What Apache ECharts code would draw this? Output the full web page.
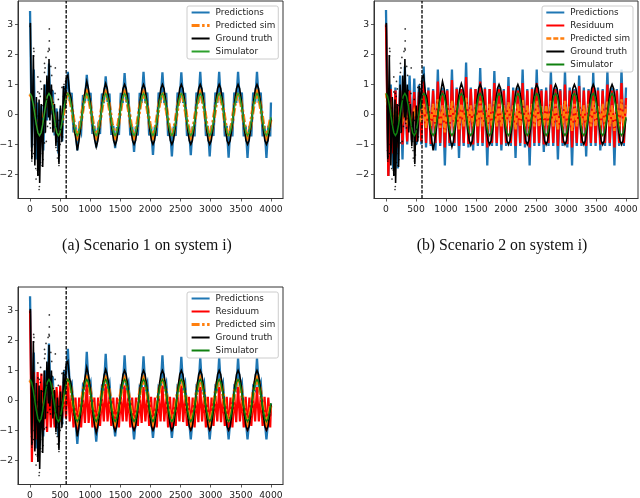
<!DOCTYPE html>
<html><head><meta charset="utf-8">
<style>html,body{margin:0;padding:0;background:#fff}#c{width:640px;height:498px;filter:blur(.4px)}</style>
<script src="https://cdn.jsdelivr.net/npm/echarts@6/dist/echarts.min.js"></script>
</head><body><div id="c"></div>
<script>
const xTicks=[0,500,1000,1500,2000,2500,3000,3500,4000];
const yTicks=[-2,-1,0,1,2,3];
const captions=["(a) Scenario 1 on system i)","(b) Scenario 2 on system i)"];
const splitStep=600;

const simX=[0,26,52,79,105,131,157,183,209,236,262,288,314,340,366,393,419,445,471,497,523,550,576,602,628,654,680,707,733,759,785,811,837,864,890,916,942,968,994,1021,1047,1073,1099,1125,1151,1178,1204,1230,1256,1282,1308,1335,1361,1387,1413,1439,1465,1492,1518,1544,1570,1596,1622,1649,1675,1701,1727,1753,1779,1806,1832,1858,1884,1910,1936,1963,1989,2015,2041,2067,2093,2120,2146,2172,2198,2224,2250,2277,2303,2329,2355,2381,2407,2434,2460,2486,2512,2538,2564,2591,2617,2643,2669,2695,2721,2748,2774,2800,2826,2852,2878,2905,2931,2957,2983,3009,3035,3062,3088,3114,3140,3166,3192,3219,3245,3271,3297,3323,3349,3376,3402,3428,3454,3480,3506,3533,3559,3585,3611,3637,3663,3690,3716,3742,3768,3794,3820,3847,3873,3899,3925,3951,3977,4000];
const simulator=[.7,.61,.35,0,-.35,-.61,-.7,-.61,-.35,0,.35,.61,.7,.61,.35,0,-.35,-.61,-.7,-.61,-.35,0,.35,.61,.7,.61,.35,0,-.35,-.61,-.7,-.61,-.35,0,.35,.61,.7,.61,.35,0,-.35,-.61,-.7,-.61,-.35,0,.35,.61,.7,.61,.35,0,-.35,-.61,-.7,-.61,-.35,0,.35,.61,.7,.61,.35,0,-.35,-.61,-.7,-.61,-.35,0,.35,.61,.7,.61,.35,0,-.35,-.61,-.7,-.61,-.35,0,.35,.61,.7,.61,.35,0,-.35,-.61,-.7,-.61,-.35,0,.35,.61,.7,.61,.35,0,-.35,-.61,-.7,-.61,-.35,0,.35,.61,.7,.61,.35,0,-.35,-.61,-.7,-.61,-.35,0,.35,.61,.7,.61,.35,0,-.35,-.61,-.7,-.61,-.35,0,.35,.61,.7,.61,.35,0,-.35,-.61,-.7,-.61,-.35,0,.35,.61,.7,.61,.35,0,-.35,-.61,-.7,-.61,-.35,-.09];
const predSimAC=[.68,.6,.36,.02,-.36,-.63,-.72,-.62,-.34,.02,.36,.62,.72,.62,.35,.02,-.35,-.62,-.74,-.62,-.34,.02,.36,.63,.74,.63,.37,.03,-.34,-.62,-.74,-.62,-.34,.03,.37,.63,.74,.63,.37,.02,-.35,-.63,-.75,-.63,-.35,.02,.36,.63,.73,.62,.36,.02,-.35,-.63,-.75,-.63,-.35,.02,.36,.62,.73,.62,.36,.02,-.35,-.63,-.75,-.63,-.35,.02,.36,.62,.73,.62,.36,.02,-.35,-.63,-.75,-.63,-.35,.02,.36,.62,.73,.62,.36,.02,-.35,-.63,-.75,-.63,-.35,.02,.36,.62,.73,.62,.36,.02,-.35,-.63,-.75,-.63,-.35,.02,.36,.62,.73,.62,.36,.02,-.35,-.63,-.75,-.63,-.35,.02,.36,.62,.73,.62,.36,.02,-.35,-.63,-.75,-.63,-.35,.02,.36,.62,.73,.62,.36,.02,-.35,-.63,-.75,-.63,-.35,.02,.36,.62,.73,.62,.36,.02,-.35,-.63,-.75,-.63,-.35,-.1];

const truthX=[0,6,30,55,80,105,130,150,160,185,210,235,255,280,305,315,330,355,380,405,430,455,480,505,530,555,580,600,628,654,680,707,733,759,785,811,837,864,890,916,942,968,994,1021,1047,1073,1099,1125,1151,1178,1204,1230,1256,1282,1308,1335,1361,1387,1413,1439,1465,1492,1518,1544,1570,1596,1622,1649,1675,1701,1727,1753,1779,1806,1832,1858,1884,1910,1936,1963,1989,2015,2041,2067,2093,2120,2146,2172,2198,2224,2250,2277,2303,2329,2355,2381,2407,2434,2460,2486,2512,2538,2564,2591,2617,2643,2669,2695,2721,2748,2774,2800,2826,2852,2878,2905,2931,2957,2983,3009,3035,3062,3088,3114,3140,3166,3192,3219,3245,3271,3297,3323,3349,3376,3402,3428,3454,3480,3506,3533,3559,3585,3611,3637,3663,3690,3716,3742,3768,3794,3820,3847,3873,3899,3925,3951,3977,4000];
const groundTruth=[2.9,3.05,-1.5,1.98,-1.7,.58,-2.05,.5,-2.28,.35,-1.75,1.0,-.6,1.3,-.1,1.85,-.2,1.0,-.6,.35,-1.05,.1,-1.65,.3,-.9,.95,.2,1.2,
1.3,.75,.55,.1,-.45,-.8,-1.2,-.9,-.5,0,.45,.8,
1.1,.88,.52,.02,-.5,-.85,-1.08,-.88,-.5,0,.5,.85,
1.03,.87,.5,0,-.5,-.87,-1.02,-.87,-.5,0,.5,.87,
1,.87,.5,0,-.5,-.87,-1,-.87,-.5,0,.5,.87,
1,.87,.5,0,-.5,-.87,-1,-.87,-.5,0,.5,.87,
1,.87,.5,0,-.5,-.87,-1,-.87,-.5,0,.5,.87,
1,.87,.5,0,-.5,-.87,-1,-.87,-.5,0,.5,.87,
1,.87,.5,0,-.5,-.87,-1,-.87,-.5,0,.5,.87,
1,.87,.5,0,-.5,-.87,-1,-.87,-.5,0,.5,.87,
1,.87,.5,0,-.5,-.87,-1,-.87,-.5,0,.5,.87,
1,.87,.5,0,-.5,-.87,-1,-.87,-.5,-.13];

const noiseX=[320,320,315,320,300,60,65,60,265,240,250,240,345,420,360,130,175,190,130,170,155,215,110,385,330,340,370,415,250,270,290,280,530,570,565,590,555,470,440,480,510,430,450,455,475,480,490,500,540,520,445,60,30,35,25,100,95,150,155,145,200,215,205,240,175,120,70,85,190];
const noiseY=[2.85,2.45,2.2,2.15,2.1,2.2,2.1,1.95,1.9,1.7,1.55,1.4,1.6,1.55,1.3,1.25,1.1,.85,.75,.6,.7,.3,-.05,.4,-.3,-.45,.8,.7,-.6,-.9,-.4,.5,.9,.85,1.0,1.1,.6,.5,-.4,-.2,-.5,-1.1,-1.2,-1.45,-1.55,-1.7,-1.35,-1.0,-.75,-.9,-.9,-1.3,-1.55,-1.4,-1.2,-2.15,-1.8,-2.5,-2.4,-2.0,-1.7,-1.5,-1.3,-.95,-1.6,-1.85,-1.0,-.4,-.1];

const teethX=[0,31,63,94,126,157,188,220,251,283,314,345,377,408,440,471,502,534,565,597,628,659,691,722,754,785,816,848,879,911,942,973,1005,1036,1068,1099,1130,1162,1193,1225,1256,1287,1319,1350,1382,1413,1444,1476,1507,1539,1570,1601,1633,1664,1696,1727,1758,1790,1821,1853,1884,1915,1947,1978,2010,2041,2072,2104,2135,2167,2198,2229,2261,2292,2324,2355,2386,2418,2449,2481,2512,2543,2575,2606,2638,2669,2700,2732,2763,2795,2826,2857,2889,2920,2952,2983,3014,3046,3077,3109,3140,3171,3203,3234,3266,3297,3328,3360,3391,3423,3454,3485,3517,3548,3580,3611,3642,3674,3705,3737,3768,3799,3831,3862,3894,3925,3956,3988,4000];
const predictionsA=[3.45,-1.1,1.5,-1.5,.4,-1.7,.3,-1.2,1.0,-.2,1.7,0,.8,-.7,.2,-1.3,.2,-.9,.95,.6,
1.42,.45,.72,-.6,-.35,-1.2,-.4,-.6,.65,.4,
1.32,.45,.72,-.65,-.38,-1.1,-.42,-.65,.7,.38,
1.27,.42,.7,-.68,-.38,-1.12,-.42,-.68,.72,.38,
1.38,.4,.72,-.7,-.4,-1.25,-.4,-.7,.72,.38,
1.42,.38,.73,-.7,-.4,-1.35,-.4,-.72,.73,.38,
1.4,.38,.72,-.72,-.4,-1.4,-.4,-.72,.73,.38,
1.4,.38,.72,-.72,-.38,-1.36,-.4,-.73,.73,.38,
1.42,.38,.73,-.72,-.38,-1.4,-.38,-.72,.73,.38,
1.42,.38,.73,-.73,-.38,-1.44,-.38,-.73,.73,.38,
1.42,.38,.73,-.73,-.38,-1.45,-.38,-.73,.73,.38,
1.42,.38,.73,-.73,-.38,-1.45,-.38,-.73,.4];
const predictionsC=[3.47,-1.1,1.6,-1.6,.5,-1.5,.4,-1.2,1.0,0,1.9,-.1,.8,-.8,.3,-1.2,.3,-.8,1.0,.7,
1.72,.5,.6,-.3,-.6,-1.45,-.6,-.5,.5,.4,
1.62,.4,.6,-.3,-.6,-1.37,-.6,-.5,.45,.35,
1.55,.4,.6,-.3,-.6,-1.2,-.6,-.5,.45,.35,
1.5,.4,.6,-.3,-.6,-1.3,-.6,-.5,.45,.35,
1.47,.4,.6,-.3,-.6,-1.25,-.6,-.5,.45,.35,
1.5,.4,.6,-.3,-.6,-1.25,-.6,-.5,.45,.35,
1.45,.4,.6,-.3,-.6,-1.3,-.6,-.5,.45,.35,
1.43,.4,.6,-.3,-.6,-1.3,-.6,-.5,.45,.35,
1.42,.4,.6,-.3,-.6,-1.3,-.6,-.5,.45,.35,
1.4,.4,.6,-.3,-.6,-1.3,-.6,-.5,.45,.35,
1.4,.4,.6,-.3,-.6,-1.3,-.6,-.5,-.1];
const residuumC=[3.0,-2.05,.95,-1.3,.95,-1.0,.9,-1.0,.5,-1.05,.6,-.9,.4,-.9,.45,-.75,.5,-.6,.35,-.6,
.7,-.7,.2,-.9,.1,-1.05,.1,-.9,.15,-.75,
.6,-.75,.15,-.9,.1,-1.05,.1,-.85,.15,-.7,
.55,-.7,.15,-.85,.1,-.95,.1,-.9,.15,-.7,
.5,-.7,.15,-.9,.1,-1.0,.1,-.85,.15,-.75,
.45,-.7,.15,-.85,.12,-1.0,.1,-.9,.15,-.7,
.5,-.7,.15,-.9,.12,-1.0,.1,-.85,.15,-.7,
.5,-.72,.15,-.85,.12,-1.0,.1,-.9,.15,-.72,
.45,-.7,.15,-.9,.12,-1.0,.1,-.85,.15,-.7,
.45,-.72,.15,-.85,.12,-1.0,.1,-.9,.15,-.72,
.45,-.7,.15,-.9,.12,-1.0,.1,-.85,.15,-.7,
.45,-.7,.15,-.85,.12,-1.0,.1,-.9,-.15];

const scenario2X=[0,39,79,118,157,196,236,275,314,353,393,432,471,510,550,589,628,667,707,746,785,824,864,903,942,981,1021,1060,1099,1138,1178,1217,1256,1295,1335,1374,1413,1452,1492,1531,1570,1609,1649,1688,1727,1766,1806,1845,1884,1923,1963,2002,2041,2080,2120,2159,2198,2237,2277,2316,2355,2394,2434,2473,2512,2551,2591,2630,2669,2708,2748,2787,2826,2865,2905,2944,2983,3022,3062,3101,3140,3179,3219,3258,3297,3336,3376,3415,3454,3493,3533,3572,3611,3650,3690,3729,3768,3807,3847,3886,3925,3964,4000];
const predictionsB=[3.48,-2.05,1.0,-1.8,.9,-1.8,1.3,-1.5,1.6,-1.0,1.3,-.9,1.2,-1.0,1.0,-1.0,
1.6,-1.1,.9,-1.05,.85,-1.2,1.5,-1.05,.9,-1.7,.85,-1.05,1.5,-1.05,.9,-1.45,.85,-1.05,1.73,-1.1,.9,-1.2,.85,-1.05,1.55,-1.05,.9,-1.7,.85,-1.05,1.45,-1.05,.9,-1.2,.85,-1.05,1.25,-1.05,.9,-1.45,.9,-1.05,1.5,-1.1,.85,-1.7,.9,-1.05,1.5,-1.05,.85,-1.25,.9,-1.05,1.45,-1.05,.9,-1.5,.85,-1.05,1.45,-1.1,.9,-1.7,.85,-1.05,1.3,-1.05,.9,-1.4,.85,-1.05,1.4,-1.05,.9,-1.2,.85,-1.05,1.45,-1.05,.9,-1.7,.85,-1.05,1.5,-1.05,.9];
const residuumB=[3.0,-2.05,.85,-1.3,.8,-1.1,.8,-1.0,.95,-.9,.8,-.85,.75,-.9,.75,-.9,
1.1,-.95,.8,-.98,.8,-.95,1.1,-.95,.8,-1.1,.8,-.95,1.15,-.95,.85,-1.05,.85,-.95,1.25,-.98,.85,-1.0,.85,-.95,1.1,-.95,.85,-1.1,.85,-.95,1.05,-.95,.85,-1.0,.8,-.95,.95,-.95,.8,-1.05,.8,-.95,1.05,-.98,.8,-1.1,.85,-.95,1.05,-.95,.8,-1.0,.8,-.95,1.0,-.95,.85,-1.05,.8,-.95,1.0,-.98,.8,-1.1,.8,-.95,.95,-.95,.8,-1.05,.8,-.95,.95,-.95,.8,-1.0,.8,-.95,1.0,-.95,.8,-1.1,.8,-.95,1.05,-.95,.55];
const predSimB=[.7,.1,.3,-.3,.2,-.3,.1,-.2,.1,-.25,.05,-.3,.1,-.2,.15,-.25,
.35,-.45,.3,-.4,.35,-.4,.5,-.45,.3,-.6,.3,-.4,.45,-.4,.3,-.5,.35,-.4,.55,-.4,.3,-.4,.35,-.4,.45,-.4,.3,-.55,.35,-.4,.45,-.4,.35,-.4,.3,-.4,.4,-.4,.3,-.5,.35,-.4,.5,-.4,.3,-.55,.35,-.4,.45,-.4,.3,-.4,.3,-.4,.45,-.4,.35,-.5,.3,-.4,.45,-.4,.3,-.55,.35,-.4,.4,-.4,.3,-.45,.35,-.4,.45,-.4,.3,-.4,.35,-.4,.45,-.4,.3,-.55,.35,-.4,.5,-.4,.3];

const C={blue:'#1f77b4',red:'#ff0000',orange:'#ff7f0e',black:'#000',green:'#2ca02c',dkgreen:'#0f800f'};
const zip=(xs,ys)=>ys.map((y,i)=>[xs[i],y]);
const N={pred:'Predictions',res:'Residuum',sim:'Predicted sim',gt:'Ground truth',s:'Simulator'};
const dashdot=[8,2.5,2.5,2.5];
const dashB=[5,2];
function line(name,xs,ys,idx,color,width,type,zl){
  return {type:'line',name,xAxisIndex:idx,yAxisIndex:idx,data:zip(xs,ys),symbol:'none',silent:true,z:zl||2,
    lineStyle:{color,width,type:type||'solid',join:'miter',miterLimit:6,cap:'butt'},itemStyle:{color},animation:false};
}
function extras(idx){
  return [
    {type:'scatter',xAxisIndex:idx,yAxisIndex:idx,data:zip(noiseX,noiseY),symbolSize:1.7,itemStyle:{color:'#000'},silent:true,z:2},
    {type:'line',xAxisIndex:idx,yAxisIndex:idx,data:[[splitStep,-2.8],[splitStep,3.78]],symbol:'none',silent:true,z:3,
     lineStyle:{color:'#000',width:1.3,type:[3.5,1.5]}}
  ];
}
const series=[
  line(N.pred,teethX,predictionsA,0,C.blue,2.3),
  line(N.sim,simX,predSimAC,0,C.orange,3.8,dashdot),
  line(N.gt,truthX,groundTruth,0,C.black,1.6),
  line(N.s,simX,simulator,0,C.green,1.5),
  ...extras(0),
  line(N.pred,scenario2X,predictionsB,1,C.blue,2.3),
  line(N.res,scenario2X,residuumB,1,C.red,2.3),
  line(N.sim,scenario2X,predSimB,1,C.orange,2.4,dashB),
  line(N.gt,truthX,groundTruth,1,C.black,1.6),
  line(N.s,simX,simulator,1,C.dkgreen,1.5),
  ...extras(1),
  line(N.pred,teethX,predictionsC,2,C.blue,2.3),
  line(N.res,teethX,residuumC,2,C.red,2.2),
  line(N.sim,simX,predSimAC,2,C.orange,3.8,dashdot),
  line(N.gt,truthX,groundTruth,2,C.black,1.6),
  line(N.s,simX,simulator,2,C.dkgreen,1.5),
  ...extras(2)
];
const grids=[{left:18,top:1,width:265,height:197.5},{left:374,top:1,width:264,height:197.5},{left:18,top:287,width:265,height:197.5}];
const fmt=v=>String(v).replace('-','\u2212');
const axisLine={show:true,onZero:false,lineStyle:{color:'#333',width:1}};
const axisTick={show:true,length:3,lineStyle:{color:'#333',width:.8}};
const labelFont={fontFamily:'DejaVu Sans',fontSize:9.2,color:'#222'};
const xAxis=grids.map((g,i)=>({type:'value',gridIndex:i,min:-200,max:4200,splitLine:{show:false},axisLine,
  axisTick:{...axisTick,customValues:xTicks},axisLabel:{...labelFont,margin:6.5,customValues:xTicks,formatter:fmt}}));
const yAxis=grids.map((g,i)=>({type:'value',gridIndex:i,min:-2.8,max:3.78,splitLine:{show:false},axisLine,
  axisTick:{...axisTick,customValues:yTicks},axisLabel:{...labelFont,margin:5,customValues:yTicks,formatter:fmt}}));
function leg(left,top,items){
  return {left,top,orient:'vertical',itemWidth:18,itemHeight:10,itemGap:4,padding:[2,3,3,3],
    backgroundColor:'rgba(255,255,255,.8)',borderColor:'#ccc',borderWidth:1,borderRadius:2,selectedMode:false,
    textStyle:{fontFamily:'DejaVu Sans',fontSize:8.8,color:'#222',padding:[0,0,0,1]},
    data:items.map(([name,color,width,type])=>({name,itemStyle:{color:'rgba(0,0,0,0)',opacity:0,borderWidth:0},lineStyle:{color,width,type:type||'solid',opacity:1}}))};
}
const option={animation:false,backgroundColor:'#fff',
  grid:grids.map(g=>({...g,show:true,borderColor:'#333',borderWidth:1,containLabel:false,outerBoundsMode:'none'})),
  xAxis,yAxis,series,
  title:[
    {text:captions[0],left:147,top:238,textAlign:'center',padding:0,textStyle:{fontFamily:'Liberation Serif',fontSize:15.8,fontWeight:'normal',color:'#111'}},
    {text:captions[1],left:502,top:238,textAlign:'center',padding:0,textStyle:{fontFamily:'Liberation Serif',fontSize:15.8,fontWeight:'normal',color:'#111'}}
  ],
  legend:[
    leg(187,6,[[N.pred,C.blue,2],[N.sim,C.orange,3.2,dashdot],[N.gt,C.black,2],[N.s,C.green,2]]),
    leg(542,6,[[N.pred,C.blue,2],[N.res,C.red,2],[N.sim,C.orange,2.6,dashB],[N.gt,C.black,2],[N.s,C.dkgreen,2]]),
    leg(187,292,[[N.pred,C.blue,2],[N.res,C.red,2],[N.sim,C.orange,3.2,dashdot],[N.gt,C.black,2],[N.s,C.dkgreen,2]])
  ]
};
echarts.init(document.getElementById('c'),null,{renderer:'canvas'}).setOption(option);
</script></body></html>
